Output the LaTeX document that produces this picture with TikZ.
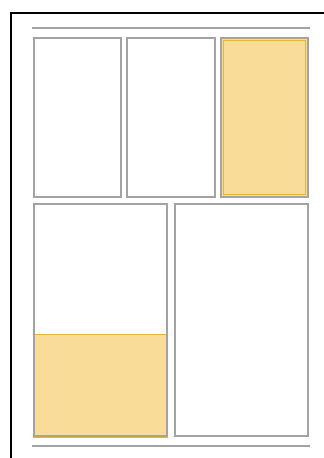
\documentclass[tikz,border=0pt]{standalone}
\usepackage{tikz}
\usetikzlibrary{calc}
\definecolor{frameGray}{HTML}{A3A3A3}
\definecolor{pageFill}{HTML}{F8DC98}
\definecolor{pageEdge}{HTML}{F2B900}
\tikzset{
  panel/.style={draw=frameGray,line width=2.6pt},
  hilite/.style={fill=pageFill,draw=pageEdge,line width=1.6pt},
  rule/.style={draw=frameGray,line width=2.6pt}
}
\begin{document}
\begin{tikzpicture}[x=1pt,y=-1pt]
  \useasboundingbox (0,0) rectangle (324,458);
  % Coordinates
  \coordinate (TL) at (11,13);
  \coordinate (TR) at (324,13);
  \coordinate (BL) at (11,458);
  % Outer frame
  \draw[black,line width=2.6pt] (BL)--(TL)--(TR);

  % Rules
  \coordinate (r1a) at (32,28);
  \coordinate (r1b) at (310,28);
  \coordinate (r2a) at (32,446);
  \coordinate (r2b) at (310,446);
  \draw[rule] (r1a)--(r1b);
  \draw[rule] (r2a)--(r2b);

  % Top row
  \draw[panel] (34,38) rectangle (121,197);
  \draw[panel] (127,38) rectangle (215,197);
  \draw[panel,fill=pageFill] (221,38) rectangle (308,197);
  \draw[draw=pageEdge,line width=0.7pt] (223.5,40.5) rectangle (305.5,194.5);

  % Bottom row
  \draw[hilite] (33.5,334.5) rectangle (167.5,437);
  \draw[panel] (34,204) rectangle (167,436);
  \draw[panel] (175,204) rectangle (308,436);
\end{tikzpicture}
\end{document}
